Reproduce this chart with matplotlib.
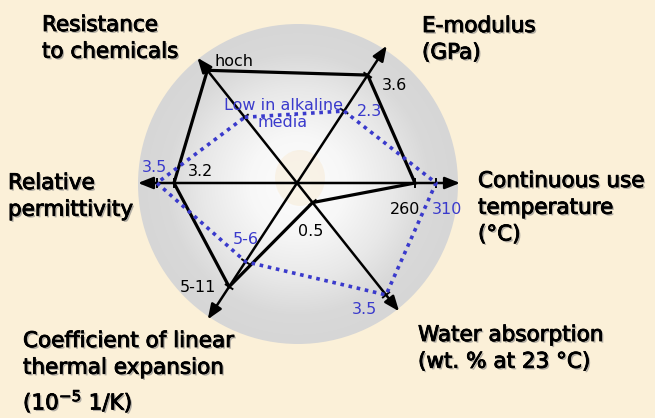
import numpy as np
import matplotlib.pyplot as plt
import matplotlib.patheffects as pe
from matplotlib.patches import Circle, Ellipse

# axes of the star chart (clockwise from upper left)
axis_names = ["Resistance\nto chemicals", "E-modulus\n(GPa)",
              "Continuous use\ntemperature\n(°C)", "Water absorption\n(wt. % at 23 °C)",
              "Coefficient of linear\nthermal expansion\n(10$^{-5}$ 1/K)", "Relative\npermittivity"]
axis_angles = [128.5, 56.8, 0.0, -51.5, 236.8, 180.0]

# black polygon (solid) and blue polygon (dotted): labels + radius along axis
black_labels = ["hoch", "3.6", "260", "0.5", "5-11", "3.2"]
black_r = [144, 129, 118, 25, 124, 123]
blue_labels = ["Low in alkaline\nmedia", "2.3", "310", "3.5", "5-6", "3.5"]
blue_r = [84, 86, 139, 143, 94, 140]

W, H = 655, 418
cx, cy = 297, 183
arrow_len = [160, 164, 163, 164, 163, 159]
BG = "#fbf0d8"
BLUE = "#3a3acc"

fig = plt.figure(figsize=(W / 100, H / 100), dpi=100, facecolor=BG)
ax = fig.add_axes([0, 0, 1, 1])
ax.set_xlim(0, W)
ax.set_ylim(H, 0)
ax.axis("off")
ax.set_facecolor(BG)


def pos(angle, r):
    a = np.deg2rad(angle)
    return cx + r * np.cos(a), cy - r * np.sin(a)


# grey disc with radial gradient
R = 160
gx, gy = np.meshgrid(np.linspace(-R, R, 400), np.linspace(-R, R, 400))
d = np.hypot(gx, gy) / R
g = np.interp(d, [0, 0.3, 0.6, 0.82, 1.0], [0.99, 0.97, 0.91, 0.85, 0.84])
img = np.dstack([g, g, g])
disc = Circle((cx + 1, cy + 1), R, transform=ax.transData, facecolor="none", edgecolor="none")
ax.add_patch(disc)
im = ax.imshow(img, extent=(cx + 1 - R, cx + 1 + R, cy + 1 + R, cy + 1 - R), zorder=1)
im.set_clip_path(disc)
ax.add_patch(Ellipse((300, 178), 50, 56, color="#f6dcae", alpha=0.25, lw=0, zorder=1.5))

# axis arrows
for ang, L in zip(axis_angles, arrow_len):
    ax.annotate("", xy=pos(ang, L), xytext=(cx, cy),
                arrowprops=dict(arrowstyle="-|>,head_length=0.6,head_width=0.24",
                                color="black", lw=1.8, shrinkA=0, shrinkB=0,
                                mutation_scale=15), zorder=3)

# polygons
bx, by = zip(*[pos(a, r) for a, r in zip(axis_angles, black_r)])
ax.plot(list(bx) + [bx[0]], list(by) + [by[0]], color="black", lw=2.3,
        solid_joinstyle="miter", zorder=4)
ux, uy = zip(*[pos(a, r) for a, r in zip(axis_angles, blue_r)])
ax.plot(list(ux) + [ux[0]], list(uy) + [uy[0]], color=BLUE, lw=2.6,
        linestyle=(0, (1, 1.3)), zorder=5)

# small ticks on the axes
for ang, r in list(zip(axis_angles, black_r)) + list(zip(axis_angles, blue_r)):
    px, py = pos(ang, r)
    a = np.deg2rad(ang + 90)
    dx, dy = 4 * np.cos(a), -4 * np.sin(a)
    ax.plot([px - dx, px + dx], [py - dy, py + dy], color="black", lw=1.4, zorder=4)

# value labels
black_xy = [(215, 62), (382, 86), (390, 210), (298, 232), (180, 287), (188, 172)]
blue_xy = [(283, 114), (357, 112), (432, 210), (352, 310), (233, 240), (142, 168)]
for txt, (x, y) in zip(black_labels, black_xy):
    ax.text(x, y, txt, fontsize=11.5, color="black", ha="left", va="center", zorder=6)
for i, (txt, (x, y)) in enumerate(zip(blue_labels, blue_xy)):
    ax.text(x, y, txt, fontsize=11.5, color=BLUE, ha="center" if i == 0 else "left",
            va="center", linespacing=1.1, zorder=6)

# axis titles
shadow = [pe.withSimplePatchShadow(offset=(1.2, -1.2), shadow_rgbFace="0.5", alpha=0.6),
          pe.Stroke(linewidth=0.6, foreground="black"), pe.Normal()]
title_xy = [(42, 15), (422, 16), (478, 171), (418, 325), (23, 331), (8, 173)]
for txt, (x, y) in zip(axis_names, title_xy):
    ax.text(x, y, txt, fontsize=15.5, color="black", ha="left", va="top",
            linespacing=1.42, path_effects=shadow, zorder=6)

fig.savefig("out.png", dpi=100, facecolor=BG)
